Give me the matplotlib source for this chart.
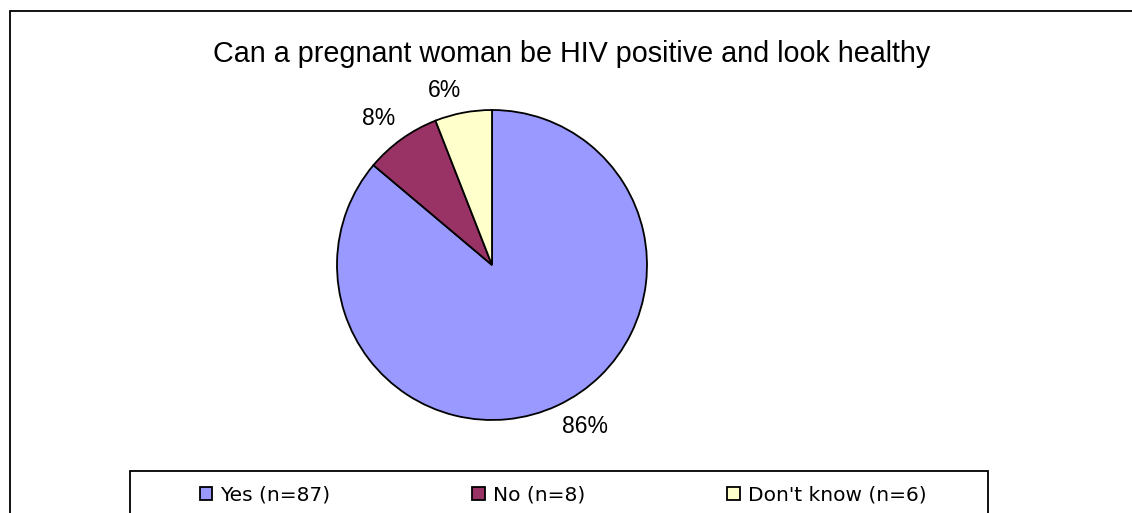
import numpy as np
import matplotlib
matplotlib.use("Agg")
import matplotlib.pyplot as plt
from matplotlib.patches import Rectangle, Patch

plt.rcParams["font.family"] = ["Liberation Sans", "DejaVu Sans"]

# data
categories = ["Yes (n=87)", "No (n=8)", "Don't know (n=6)"]
counts = [87, 8, 6]
colors = ["#9999FF", "#993366", "#FFFFCC"]
title = "Can a pregnant woman be HIV positive and look healthy"

W, H = 1132, 513
fig = plt.figure(figsize=(W / 100, H / 100), dpi=100, facecolor="white")

# outer chart frame (right and bottom edges run off the picture)
fig.patches.append(Rectangle((10 / W, -0.1), 1.2, 1.1 - 11 / H, transform=fig.transFigure,
                             facecolor="none", edgecolor="black", linewidth=1.3))

fig.text(572 / W, 1 - 62 / H, title, ha="center", va="baseline", fontsize=20.7)

# pie axes: centre (492, 265), radius 155 px
cx, cy, r = 492, 265, 155
ax = fig.add_axes([(cx - r) / W, (H - cy - r) / H, 2 * r / W, 2 * r / H])
wedges, texts, autotexts = ax.pie(
    counts, colors=colors, startangle=90, counterclock=False,
    autopct="%1.0f%%", pctdistance=1.1,
    wedgeprops=dict(edgecolor="black", linewidth=1.3),
    textprops=dict(fontsize=16.5),
)
# Excel-style: label corner sits just outside the slice midpoint
for w, t in zip(wedges, autotexts):
    ang = np.deg2rad((w.theta1 + w.theta2) / 2)
    c, s = np.cos(ang), np.sin(ang)
    t.set_position((1.07 * c, 1.07 * s))
    t.set_ha("left" if c > 0 else "right")
    t.set_va("top" if s < 0 else "bottom")
ax.set_xlim(-1, 1)
ax.set_ylim(-1, 1)
ax.set_aspect("equal")
ax.axis("off")

# legend box (bottom runs off the picture)
fig.patches.append(Rectangle((130 / W, -0.1), (988 - 130) / W, 0.1 + 1 - 471 / H,
                             transform=fig.transFigure, facecolor="white",
                             edgecolor="black", linewidth=1.3))
handles = [Patch(facecolor=c, edgecolor="black", linewidth=1.3) for c in colors]
fig.legend(handles, categories, loc="center", bbox_to_anchor=(563 / W, 1 - 495 / H),
           ncol=3, frameon=False, handlelength=0.62, handleheight=0.62,
           handletextpad=0.4, columnspacing=7.05, borderpad=0,
           prop=dict(family="DejaVu Sans", size=14.5))

fig.savefig("out.png", dpi=100, facecolor="white")
